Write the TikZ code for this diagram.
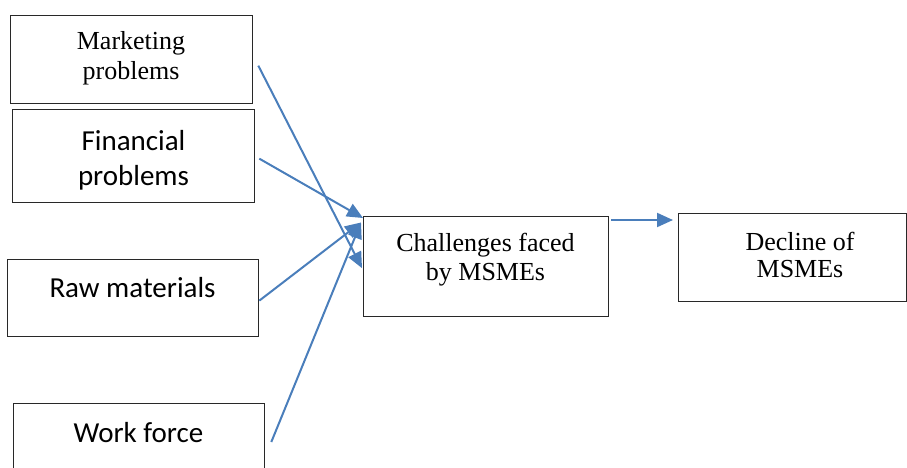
\documentclass[tikz,border=0pt]{standalone}
\usepackage{fontspec}
\setmainfont{Liberation Serif}
\newfontfamily\calib{Carlito}
\usetikzlibrary{arrows.meta}
\definecolor{arrblue}{RGB}{74,126,187}
\definecolor{boxline}{RGB}{40,40,40}
\tikzset{
  box/.style={draw=boxline, line width=1.3pt, inner sep=0pt, anchor=north west},
  serif/.style={font=\fontsize{26}{28.5}\selectfont, align=center, inner sep=0pt, anchor=base},
  sans/.style={font=\calib\fontsize{29}{35}\selectfont, align=center, inner sep=0pt, anchor=base},
  arr/.style={draw=arrblue, line width=2pt, -{Triangle[length=16pt,width=14pt]}}
}
\begin{document}
\begin{tikzpicture}[x=1pt,y=-1pt]
\useasboundingbox (0,0) rectangle (907,468);
% boxes
\node[box, minimum width=242pt, minimum height=88pt] (mk) at (10,15) {};
\node[box, minimum width=242pt, minimum height=93pt] (fin) at (12,109) {};
\node[box, minimum width=251pt, minimum height=77pt] (raw) at (7,259) {};
\node[box, minimum width=251pt, minimum height=85pt] (wf) at (13,403) {};
\node[box, minimum width=245pt, minimum height=100pt] (ch) at (363,215.5) {};
\node[box, minimum width=228pt, minimum height=88pt] (dec) at (678,213) {};
% texts (base = last line)
\node[serif, font=\fontsize{26}{30}\selectfont] (mkt) at (131,80) {Marketing\\problems};
\node[sans] (fint) at (133.5,185) {Financial\\problems};
\node[sans] (rawt) at (132.5,297) {Raw materials};
\node[sans] (wft) at (138.5,442) {Work force};
\node[serif, font=\fontsize{26}{28.3}\selectfont] (cht) at (485.5,280) {Challenges faced\\by MSMEs};
\node[serif, font=\fontsize{26}{27}\selectfont] (dect) at (800,277) {Decline of\\MSMEs};
% connectors
\draw[arr] ([xshift=5pt,yshift=-6pt]mk.east) -- ([xshift=-1pt,yshift=-2pt]ch.west);
\draw[arr] ([xshift=4pt,yshift=-2.5pt]fin.east) -- ([yshift=-2.5pt]ch.north west);
\draw[arr] ([yshift=-2.5pt]raw.east) -- ([xshift=-2pt,yshift=-7pt]ch.north west);
\draw[arr] ([xshift=6pt,yshift=-39pt]wf.north east) -- ([xshift=-2pt,yshift=-7pt]ch.north west);
\draw[arr] ([xshift=2pt,yshift=-4.5pt]ch.north east) -- ([xshift=-5pt,yshift=-7pt]dec.north west);
\end{tikzpicture}
\end{document}
